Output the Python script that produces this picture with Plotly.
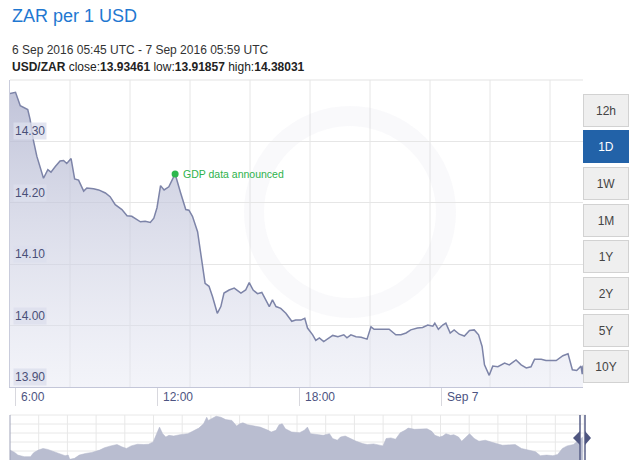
import plotly.graph_objects as go
import pandas as pd

# ---------------- data ----------------
main_times = [
    "2016-09-06 05:45", "2016-09-06 05:59", "2016-09-06 06:11", "2016-09-06 06:19", "2016-09-06 06:30",
    "2016-09-06 06:36", "2016-09-06 06:44", "2016-09-06 06:53", "2016-09-06 07:01", "2016-09-06 07:10",
    "2016-09-06 07:21", "2016-09-06 07:29", "2016-09-06 07:40", "2016-09-06 07:52", "2016-09-06 08:01",
    "2016-09-06 08:09", "2016-09-06 08:20", "2016-09-06 08:29", "2016-09-06 08:39", "2016-09-06 08:52",
    "2016-09-06 09:00", "2016-09-06 09:17", "2016-09-06 09:30", "2016-09-06 09:47", "2016-09-06 09:59",
    "2016-09-06 10:12", "2016-09-06 10:29", "2016-09-06 10:42", "2016-09-06 10:54", "2016-09-06 11:07",
    "2016-09-06 11:16", "2016-09-06 11:28", "2016-09-06 11:41", "2016-09-06 11:50", "2016-09-06 11:58",
    "2016-09-06 12:07", "2016-09-06 12:16", "2016-09-06 12:28", "2016-09-06 12:44", "2016-09-06 12:58",
    "2016-09-06 13:11", "2016-09-06 13:19", "2016-09-06 13:28", "2016-09-06 13:41", "2016-09-06 13:49",
    "2016-09-06 14:00", "2016-09-06 14:10", "2016-09-06 14:19", "2016-09-06 14:31", "2016-09-06 14:40",
    "2016-09-06 14:48", "2016-09-06 15:01", "2016-09-06 15:14", "2016-09-06 15:31", "2016-09-06 15:43",
    "2016-09-06 15:52", "2016-09-06 16:02", "2016-09-06 16:13", "2016-09-06 16:24", "2016-09-06 16:34",
    "2016-09-06 16:43", "2016-09-06 16:51", "2016-09-06 17:00", "2016-09-06 17:12", "2016-09-06 17:25",
    "2016-09-06 17:40", "2016-09-06 17:50", "2016-09-06 18:03", "2016-09-06 18:13", "2016-09-06 18:20",
    "2016-09-06 18:33", "2016-09-06 18:41", "2016-09-06 18:50", "2016-09-06 19:01", "2016-09-06 19:11",
    "2016-09-06 19:24", "2016-09-06 19:37", "2016-09-06 19:52", "2016-09-06 20:00", "2016-09-06 20:10",
    "2016-09-06 20:23", "2016-09-06 20:36", "2016-09-06 20:51", "2016-09-06 21:01", "2016-09-06 21:09",
    "2016-09-06 21:26", "2016-09-06 21:47", "2016-09-06 22:04", "2016-09-06 22:17", "2016-09-06 22:30",
    "2016-09-06 22:42", "2016-09-06 22:59", "2016-09-06 23:12", "2016-09-06 23:25", "2016-09-06 23:38",
    "2016-09-06 23:43", "2016-09-06 23:52", "2016-09-07 00:03", "2016-09-07 00:11", "2016-09-07 00:22",
    "2016-09-07 00:32", "2016-09-07 00:45", "2016-09-07 00:58", "2016-09-07 01:11", "2016-09-07 01:23",
    "2016-09-07 01:34", "2016-09-07 01:43", "2016-09-07 01:49", "2016-09-07 02:01", "2016-09-07 02:10",
    "2016-09-07 02:23", "2016-09-07 02:40", "2016-09-07 02:52", "2016-09-07 03:09", "2016-09-07 03:22",
    "2016-09-07 03:35", "2016-09-07 03:47", "2016-09-07 03:56", "2016-09-07 04:13", "2016-09-07 04:25",
    "2016-09-07 04:51", "2016-09-07 05:08", "2016-09-07 05:21", "2016-09-07 05:32", "2016-09-07 05:43",
    "2016-09-07 05:54", "2016-09-07 05:57", "2016-09-07 05:59",
]
main_rates = [
    14.378, 14.380, 14.358, 14.355, 14.352, 14.336, 14.303, 14.276, 14.257, 14.240,
    14.254, 14.250, 14.259, 14.268, 14.269, 14.264, 14.272, 14.239, 14.237, 14.219,
    14.224, 14.223, 14.221, 14.216, 14.210, 14.197, 14.189, 14.179, 14.178, 14.172,
    14.169, 14.170, 14.168, 14.175, 14.192, 14.228, 14.221, 14.226, 14.247, 14.216,
    14.189, 14.188, 14.178, 14.153, 14.118, 14.069, 14.064, 14.047, 14.020, 14.031,
    14.053, 14.058, 14.061, 14.053, 14.058, 14.070, 14.058, 14.052, 14.054, 14.042,
    14.031, 14.042, 14.031, 14.028, 14.020, 14.007, 14.009, 14.009, 14.012, 13.996,
    13.985, 13.976, 13.980, 13.974, 13.979, 13.984, 13.982, 13.985, 13.980, 13.985,
    13.982, 13.981, 13.978, 13.998, 13.994, 13.994, 13.994, 13.985, 13.985, 13.988,
    13.993, 13.996, 13.997, 14.001, 13.999, 14.004, 13.994, 14.001, 14.004, 13.988,
    13.993, 13.986, 13.983, 13.992, 13.993, 13.985, 13.966, 13.936, 13.919, 13.934,
    13.933, 13.939, 13.936, 13.944, 13.936, 13.931, 13.933, 13.945, 13.945, 13.943,
    13.943, 13.951, 13.954, 13.928, 13.927, 13.934, 13.921, 13.935,
]

event_time = "2016-09-06 12:44"
event_rate = 14.247
event_label = "GDP data announced"

x_tick_vals = ["2016-09-06 06:00", "2016-09-06 12:00", "2016-09-06 18:00", "2016-09-07 00:00"]
x_tick_text = ["6:00", "12:00", "18:00", "Sep 7"]
y_tick_vals = [13.90, 14.00, 14.10, 14.20, 14.30]
y_tick_text = ["13.90", "14.00", "14.10", "14.20", "14.30"]

nav_start = "2015-09-07"
nav_day = [
    0, 3, 5, 9, 13, 15, 18, 21, 24, 27, 31, 35, 37, 38, 41, 44, 48, 52, 57, 60,
    64, 68, 71, 74, 77, 81, 85, 88, 91, 93, 95, 97, 99, 101, 104, 108, 113, 116, 120, 123,
    125, 126, 129, 131, 134, 137, 141, 144, 146, 148, 151, 154, 159, 164, 166, 169, 171, 173, 175, 179,
    184, 187, 189, 191, 195, 199, 203, 205, 208, 210, 213, 216, 220, 224, 227, 231, 235, 237, 239, 242,
    245, 248, 251, 253, 257, 260, 265, 268, 270, 273, 275, 277, 280, 282, 285, 287, 290, 292, 295, 298,
    302, 306, 309, 313, 317, 321, 325, 329, 334, 337, 341, 345, 348, 351, 354, 358, 360, 363, 364,
]
nav_values = [
    13.79, 13.58, 13.34, 13.20, 13.20, 13.55, 13.79, 13.94, 13.85, 13.70,
    13.43, 13.29, 13.34, 12.96, 13.05, 13.34, 13.49, 13.58, 13.79, 14.00,
    14.17, 14.29, 14.09, 13.94, 14.17, 14.32, 14.29, 14.32, 14.53, 15.12,
    15.86, 15.27, 14.97, 15.12, 15.06, 15.18, 15.27, 15.48, 15.77, 16.16,
    16.75, 16.46, 16.66, 16.84, 16.75, 16.54, 16.46, 15.95, 16.16, 16.25,
    16.07, 16.01, 15.86, 15.57, 15.42, 15.57, 16.07, 16.16, 15.71, 15.42,
    15.36, 15.57, 15.86, 15.27, 15.18, 15.12, 15.27, 14.83, 14.68, 14.97,
    15.06, 14.83, 14.59, 14.38, 14.29, 14.35, 14.23, 14.17, 14.83, 14.89,
    14.77, 15.36, 15.57, 15.77, 15.66, 15.66, 15.71, 15.48, 15.12, 14.97,
    15.06, 15.27, 15.12, 15.18, 14.97, 14.59, 14.97, 15.27, 14.83, 14.59,
    14.68, 14.47, 14.38, 14.23, 14.23, 14.29, 13.94, 13.79, 13.64, 13.29,
    13.34, 13.29, 13.40, 13.94, 14.17, 14.29, 14.53, 14.83, 14.97,
]

range_buttons = ["12h", "1D", "1W", "1M", "1Y", "2Y", "5Y", "10Y"]
active_button = "1D"

title_text = "ZAR per 1 USD"
period_text = "6 Sep 2016 05:45 UTC - 7 Sep 2016 05:59 UTC"
stats_text = ("<b>USD/ZAR</b> close:<b>13.93461</b> low:<b>13.91857</b> "
              "high:<b>14.38031</b>")

# ---------------- layout helpers ----------------
W, H = 640, 471
L, R, T, B = 10, 54, 80, 11
PW, PH = W - L - R, H - T - B
FONT = "Liberation Sans, Arial, Helvetica, sans-serif"


def px_x(x):
    return (x - L) / PW


def px_y(y):
    return (H - B - y) / PH


main_right = 583
main_bottom = 387
nav_top = 415

nav_dates = pd.Timestamp(nav_start) + pd.to_timedelta(nav_day, unit="D")

fig = go.Figure()

fig.add_trace(go.Scatter(
    x=main_times, y=main_rates, mode="lines",
    line=dict(color="#7d84a8", width=1.5),
    fill="tozeroy",
    fillgradient=dict(
        type="vertical",
        colorscale=[[0, "rgba(228,230,242,0.45)"], [1, "rgba(172,176,204,0.78)"]],
        start=13.90, stop=14.40,
    ),
    xaxis="x", yaxis="y", hoverinfo="skip", showlegend=False,
))
fig.add_trace(go.Scatter(
    x=[event_time], y=[event_rate], mode="markers",
    marker=dict(color="#2db84d", size=7),
    xaxis="x", yaxis="y", showlegend=False, hoverinfo="skip",
))
fig.add_trace(go.Scatter(
    x=nav_dates, y=nav_values, mode="lines",
    line=dict(color="#b3b7cb", width=0.5),
    fill="tozeroy", fillcolor="#b9bdd0",
    xaxis="x2", yaxis="y2", hoverinfo="skip", showlegend=False,
))

shapes = []
# vertical grid in main plot
main_w = main_right - L
for k in range(1, 10):
    shapes.append(dict(type="line", xref="x domain", yref="y domain",
                       x0=k * 60 / main_w, x1=k * 60 / main_w, y0=0, y1=1,
                       line=dict(color="#e6e6e6", width=1), layer="below"))
# top border of main plot
shapes.append(dict(type="line", xref="x domain", yref="y domain", x0=0, x1=1, y0=1, y1=1,
                   line=dict(color="#e3e3e3", width=1), layer="below"))
# faint watermark ring
shapes.append(dict(type="circle", xref="paper", yref="paper",
                   x0=px_x(254), x1=px_x(446), y0=px_y(308), y1=px_y(116),
                   line=dict(color="rgba(205,208,226,0.12)", width=20), layer="below"))
# navigator grid
nav_w = PW
for k in range(1, 21):
    xx = k * 28.7 / nav_w
    shapes.append(dict(type="line", xref="x2 domain", yref="y2 domain", x0=xx, x1=xx, y0=0, y1=1,
                       line=dict(color="#e8e8e8", width=1), layer="below"))
for f in [0.2, 0.4, 0.6, 0.8, 1.0]:
    shapes.append(dict(type="line", xref="x2 domain", yref="y2 domain", x0=0, x1=1, y0=f, y1=f,
                       line=dict(color="#e8e8e8", width=1), layer="below"))
# navigator left border
shapes.append(dict(type="line", xref="paper", yref="paper", x0=0, x1=0, y0=0, y1=px_y(nav_top),
                   line=dict(color="#9ea2b8", width=1)))
# navigator handles
for hx in (580, 585):
    shapes.append(dict(type="line", xref="paper", yref="paper", x0=px_x(hx), x1=px_x(hx),
                       y0=0, y1=px_y(nav_top), line=dict(color="#5a6188", width=1.5)))
hy = 438


def tri(x_base, x_tip):
    return (f"M {px_x(x_base)} {px_y(hy - 7)} L {px_x(x_tip)} {px_y(hy)} "
            f"L {px_x(x_base)} {px_y(hy + 7)} Z")


shapes.append(dict(type="path", xref="paper", yref="paper", path=tri(580, 573),
                   fillcolor="#4f5680", line=dict(width=0)))
shapes.append(dict(type="path", xref="paper", yref="paper", path=tri(585, 591),
                   fillcolor="#4f5680", line=dict(width=0)))

annotations = []
# header
annotations.append(dict(text=title_text, xref="paper", yref="paper", x=px_x(10), y=px_y(16),
                        xanchor="left", yanchor="middle", showarrow=False,
                        font=dict(family=FONT, size=18, color="#1f78d1")))
annotations.append(dict(text=period_text, xref="paper", yref="paper", x=px_x(10), y=px_y(50),
                        xanchor="left", yanchor="middle", showarrow=False,
                        font=dict(family=FONT, size=12, color="#333333")))
annotations.append(dict(text=stats_text, xref="paper", yref="paper", x=px_x(10), y=px_y(67),
                        xanchor="left", yanchor="middle", showarrow=False,
                        font=dict(family=FONT, size=12, color="#222222")))
# y tick labels
for v, t in zip(y_tick_vals, y_tick_text):
    annotations.append(dict(text=t, xref="paper", yref="y", x=0, y=v, xanchor="left",
                            yanchor="bottom", xshift=3, yshift=1, showarrow=False,
                            bgcolor="rgba(220,222,236,0.8)", borderpad=1,
                            font=dict(family=FONT, size=12, color="#4a5078")))
# x tick labels
for v, t in zip(x_tick_vals, x_tick_text):
    annotations.append(dict(text=t, xref="x", yref="paper", x=v, y=px_y(397), xanchor="left",
                            yanchor="middle", xshift=3, showarrow=False,
                            font=dict(family=FONT, size=12, color="#4d5482")))
# event label
annotations.append(dict(text=event_label, xref="x", yref="y", x=event_time, y=event_rate,
                        xanchor="left", yanchor="middle", xshift=6, showarrow=False,
                        font=dict(family=FONT, size=10.5, color="#2db24c")))
# range buttons
bx = px_x(605.8)
for i, lab in enumerate(range_buttons):
    cy = 110 + i * 36.7
    active = lab == active_button
    annotations.append(dict(text=lab, xref="paper", yref="paper", x=bx, y=px_y(cy),
                            xanchor="center", yanchor="middle", showarrow=False,
                            width=44, height=31, borderpad=0, borderwidth=1,
                            bordercolor="#2262a8" if active else "#d2d2d2",
                            bgcolor="#2262a8" if active else "#efefef",
                            font=dict(family=FONT, size=12,
                                      color="#ffffff" if active else "#444444")))

fig.update_layout(
    width=W, height=H,
    margin=dict(l=L, r=R, t=T, b=B, pad=0),
    paper_bgcolor="white", plot_bgcolor="white",
    showlegend=False,
    xaxis=dict(domain=[0, px_x(main_right)], type="date",
               range=["2016-09-06 05:45", "2016-09-07 05:59"],
               showgrid=False, zeroline=False,
               showline=True, linecolor="#c3c6d8", linewidth=1,
               tickmode="array", tickvals=x_tick_vals, showticklabels=False,
               ticks="outside", ticklen=18, tickcolor="#d8d8de", tickwidth=1,
               fixedrange=True),
    yaxis=dict(domain=[px_y(main_bottom), 1], range=[13.90, 14.40],
               tickmode="array", tickvals=y_tick_vals + [14.40], showticklabels=False,
               showgrid=True, gridcolor="#e6e6e6", gridwidth=1, zeroline=False,
               showline=True, linecolor="#c9ccdc", linewidth=1, ticks="",
               fixedrange=True),
    xaxis2=dict(domain=[0, 1], anchor="y2", type="date",
                range=[nav_start, "2016-09-07"], showgrid=False, zeroline=False,
                showline=False, showticklabels=False, ticks="", fixedrange=True),
    yaxis2=dict(domain=[0, px_y(nav_top)], anchor="x2", range=[12.9, 16.95],
                showgrid=False, zeroline=False, showline=False,
                showticklabels=False, ticks="", fixedrange=True),
    shapes=shapes,
    annotations=annotations,
)

fig.write_html("out.html")
